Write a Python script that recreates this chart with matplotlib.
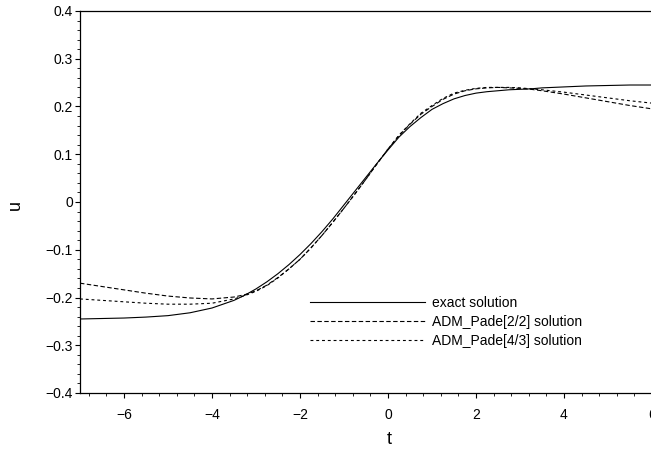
import matplotlib
matplotlib.use("Agg")
import matplotlib.pyplot as plt
from matplotlib.ticker import MultipleLocator, FixedLocator, FixedFormatter

plt.rcParams["font.family"] = ["Liberation Sans", "DejaVu Sans"]

t = [-7, -6.5, -6, -5.5, -5, -4.5, -4, -3.5, -3.25, -3, -2.75, -2.5, -2.25,
     -2, -1.75, -1.5, -1.25, -1, -0.75, -0.5, -0.25, 0, 0.25, 0.5, 0.75,
     1, 1.25, 1.5, 1.75, 2, 2.25, 2.5, 2.75, 3, 3.25, 3.5, 4, 4.5, 5, 5.5, 6]

u_exact = [-0.245, -0.244, -0.243, -0.241, -0.238, -0.232, -0.222, -0.206,
           -0.195, -0.182, -0.167, -0.150, -0.131, -0.110, -0.087, -0.062,
           -0.035, -0.006, 0.023, 0.052, 0.081, 0.109, 0.136, 0.158, 0.177,
           0.194, 0.206, 0.216, 0.223, 0.228, 0.231, 0.233, 0.235, 0.236,
           0.237, 0.239, 0.241, 0.243, 0.244, 0.245, 0.245]

u_pade22 = [-0.170, -0.177, -0.184, -0.191, -0.197, -0.201, -0.203, -0.199,
            -0.194, -0.186, -0.174, -0.158, -0.140, -0.120, -0.096, -0.070,
            -0.042, -0.013, 0.017, 0.048, 0.080, 0.111, 0.139, 0.163, 0.184,
            0.200, 0.215, 0.226, 0.233, 0.237, 0.239, 0.240, 0.239, 0.238,
            0.236, 0.233, 0.226, 0.218, 0.210, 0.202, 0.195]

u_pade43 = [-0.203, -0.206, -0.209, -0.212, -0.214, -0.214, -0.212, -0.203,
            -0.196, -0.187, -0.175, -0.159, -0.140, -0.120, -0.096, -0.070,
            -0.042, -0.013, 0.017, 0.048, 0.080, 0.111, 0.140, 0.164, 0.186,
            0.202, 0.217, 0.228, 0.234, 0.238, 0.240, 0.240, 0.240, 0.239,
            0.237, 0.235, 0.230, 0.224, 0.218, 0.212, 0.207]

labels = ["exact solution", "ADM_Pade[2/2] solution", "ADM_Pade[4/3] solution"]

xticks = [-6, -4, -2, 0, 2, 4, 6]
yticks = [-0.4, -0.3, -0.2, -0.1, 0, 0.1, 0.2, 0.3, 0.4]
ytick_labels = ["\u22120.4", "\u22120.3", "\u22120.2", "\u22120.1", "0",
                "0.1", "0.2", "0.3", "0.4"]

fig = plt.figure(figsize=(6.51, 4.5), dpi=100)
ax = fig.add_axes([80 / 651, 57 / 450, 572 / 651, 382 / 450])

ax.plot(t, u_exact, color="black", lw=0.8, label=labels[0])
l2, = ax.plot(t, u_pade22, color="black", lw=0.8, label=labels[1])
l2.set_dashes((4, 2.2))
l3, = ax.plot(t, u_pade43, color="black", lw=0.8, label=labels[2])
l3.set_dashes((2.6, 2.6))

ax.set_xlim(-7, 6)
ax.set_ylim(-0.4, 0.4)

ax.xaxis.set_major_locator(FixedLocator(xticks))
ax.xaxis.set_minor_locator(MultipleLocator(0.4))
ax.yaxis.set_major_locator(FixedLocator(yticks))
ax.yaxis.set_major_formatter(FixedFormatter(ytick_labels))
ax.yaxis.set_minor_locator(MultipleLocator(0.02))

ax.tick_params(which="major", direction="out", length=3.6, width=0.8,
               labelsize=10)
ax.tick_params(axis="x", which="major", pad=7)
ax.tick_params(axis="y", which="major", pad=1.5)
ax.tick_params(which="minor", direction="out", length=2.0, width=0.6)

ax.spines["right"].set_visible(False)
for s in ["left", "bottom", "top"]:
    ax.spines[s].set_linewidth(0.9)

ax.set_xlabel("t", fontsize=13)
ax.set_ylabel("u", fontsize=13)
ax.xaxis.set_label_coords((389 - 80) / 572, -(431 - 393) / 382)
ax.yaxis.set_label_coords(-(80 - 24) / 572, (393 - 205) / 382)

ax.legend(loc="upper left", bbox_to_anchor=((310 - 80) / 572, (393 - 296) / 382),
          frameon=False, fontsize=10, handlelength=8.3, handletextpad=0.5,
          labelspacing=0.35, borderpad=0, borderaxespad=0)

fig.savefig("out.png", dpi=100)
